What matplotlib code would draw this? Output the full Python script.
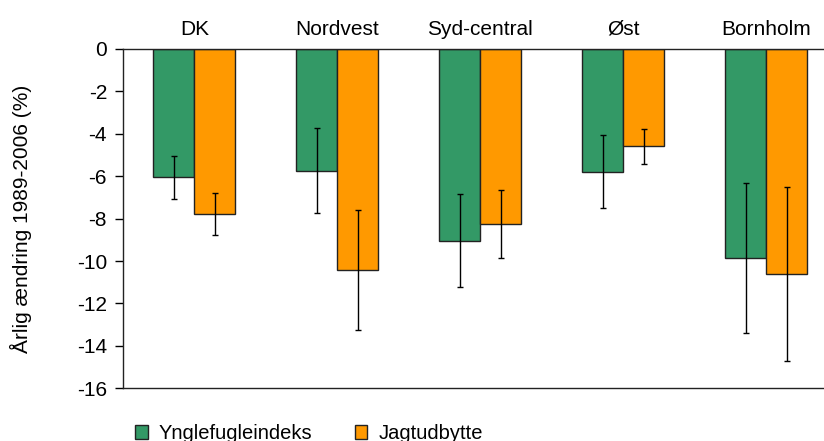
import matplotlib
matplotlib.use("Agg")
import matplotlib.pyplot as plt
from matplotlib.patches import Patch
import numpy as np

plt.rcParams['font.family'] = ['Liberation Sans', 'DejaVu Sans']
plt.rcParams['font.size'] = 15
plt.rcParams['axes.unicode_minus'] = False

# data
regions = ['DK', 'Nordvest', 'Syd-central', 'Øst', 'Bornholm']
yngle = [-6.05, -5.74, -9.04, -5.79, -9.86]
yngle_err = [1.0, 2.0, 2.18, 1.73, 3.52]
jagt = [-7.78, -10.42, -8.25, -4.58, -10.61]
jagt_err = [0.97, 2.85, 1.6, 0.83, 4.09]

green = '#339966'
orange = '#FF9900'

fig = plt.figure(figsize=(8.24, 4.41), dpi=100)
ax = fig.add_axes([123 / 824, 1 - 388.3 / 441, 1 - 123 / 824, (388.3 - 49) / 441])

x = np.arange(len(regions))
w = 0.287
ax.bar(x - w / 2, yngle, w, color=green, edgecolor='#222222', linewidth=1)
ax.bar(x + w / 2, jagt, w, color=orange, edgecolor='#222222', linewidth=1)
ax.errorbar(x - w / 2, yngle, yerr=yngle_err, fmt='none', ecolor='black',
            elinewidth=1, capsize=2.3, capthick=1)
ax.errorbar(x + w / 2, jagt, yerr=jagt_err, fmt='none', ecolor='black',
            elinewidth=1, capsize=2.3, capthick=1)

ax.set_xlim(-0.5, 4.405)
ax.set_ylim(-16, 0)
ax.set_yticks(range(-16, 1, 2))
ax.tick_params(axis='y', direction='out', length=6, width=1, pad=5.5)

ax.xaxis.tick_top()
ax.set_xticks(x)
ax.set_xticklabels(regions)
ax.tick_params(axis='x', length=0, pad=7.5)

ax.spines['right'].set_visible(False)
for s in ['top', 'bottom', 'left']:
    ax.spines[s].set_linewidth(1)
    ax.spines[s].set_color('#222222')

ax.set_ylabel('Årlig ændring 1989-2006 (%)', labelpad=32)

handles = [Patch(facecolor=green, edgecolor='#222222'),
           Patch(facecolor=orange, edgecolor='#222222')]
fig.legend(handles, ['Ynglefugleindeks', 'Jagtudbytte'], loc='upper left',
           bbox_to_anchor=(125 / 824, 1 - 414 / 441), ncol=2, frameon=False,
           borderpad=0, handlelength=0.63, handleheight=0.63,
           handletextpad=0.55, columnspacing=2.1, fontsize=14.5)

fig.savefig('out.png', dpi=100)
